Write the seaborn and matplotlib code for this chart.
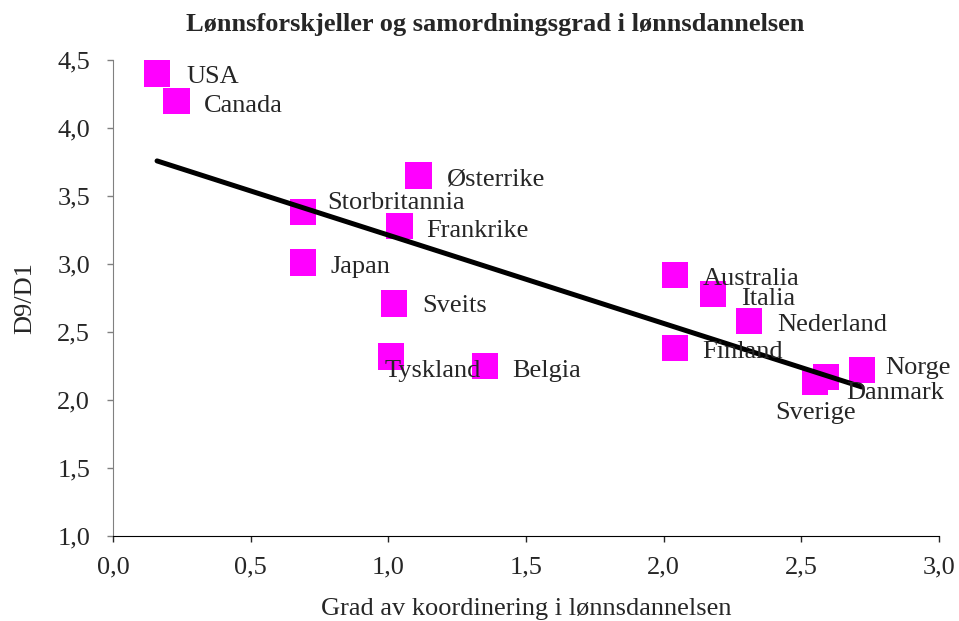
import numpy as np
import pandas as pd
import matplotlib
matplotlib.use('Agg')
import matplotlib.pyplot as plt
import matplotlib.ticker as mticker
import seaborn as sns

# data
land = ['USA', 'Canada', 'Storbritannia', 'Japan', 'Østerrike', 'Frankrike',
        'Sveits', 'Tyskland', 'Belgia', 'Australia', 'Italia', 'Nederland',
        'Finland', 'Norge', 'Danmark', 'Sverige']
koordinering = [0.16, 0.23, 0.69, 0.69, 1.11, 1.04,
                1.02, 1.01, 1.35, 2.04, 2.18, 2.31,
                2.04, 2.72, 2.59, 2.55]
d9_d1 = [4.40, 4.20, 3.38, 3.01, 3.65, 3.28,
         2.71, 2.32, 2.25, 2.92, 2.78, 2.58,
         2.38, 2.22, 2.17, 2.13]

df = pd.DataFrame({'land': land, 'x': koordinering, 'y': d9_d1})

# label offsets in pixels (dx, dy, horizontal alignment)
offsets = {
    'USA': (29, -3, 'left'), 'Canada': (28, -5, 'left'),
    'Storbritannia': (24, 9, 'left'), 'Japan': (28, -4, 'left'),
    'Østerrike': (28, -4, 'left'), 'Frankrike': (27, -5, 'left'),
    'Sveits': (28, -3, 'left'), 'Tyskland': (-7, -15, 'left'),
    'Belgia': (28, -5, 'left'), 'Australia': (28, -4, 'left'),
    'Italia': (28, -5, 'left'), 'Nederland': (28, -4, 'left'),
    'Finland': (28, -4, 'left'), 'Norge': (23, 2, 'left'),
    'Danmark': (20, -16, 'left'), 'Sverige': (0, -31, 'center'),
}

sns.set_style('white')
plt.rcParams['font.family'] = ['Liberation Serif', 'DejaVu Serif']

fig = plt.figure(figsize=(9.59, 6.21), dpi=100)
ax = fig.add_axes([113 / 959, 1 - 536 / 621, 826 / 959, 476 / 621])

sns.scatterplot(data=df, x='x', y='y', marker='s', s=360, color='#FF00FF',
                edgecolor='none', ax=ax, zorder=2)
sns.regplot(data=df, x='x', y='y', scatter=False, ci=None, truncate=True,
            line_kws={'color': 'black', 'lw': 3.6, 'zorder': 3}, ax=ax)

for _, r in df.iterrows():
    dx, dy, ha = offsets[r['land']]
    ax.annotate(r['land'], (r['x'], r['y']), xytext=(dx * 0.72, dy * 0.72),
                textcoords='offset points', ha=ha, va='center', fontsize=19,
                zorder=4)

ax.set_xlim(0, 3)
ax.set_ylim(1, 4.5)
ax.set_xticks(np.arange(0, 3.01, 0.5))
ax.set_yticks(np.arange(1, 4.51, 0.5))
fmt = mticker.FuncFormatter(lambda v, p: f'{v:.1f}'.replace('.', ','))
ax.xaxis.set_major_formatter(fmt)
ax.yaxis.set_major_formatter(fmt)
ax.tick_params(axis='both', labelsize=19, length=4.5, width=1, direction='out',
               bottom=True, left=True)
ax.tick_params(axis='y', color='#808080', pad=12)
ax.tick_params(axis='x', pad=10)

sns.despine(ax=ax)
ax.spines['left'].set_color('#808080')
ax.spines['bottom'].set_color('black')

ax.set_xlabel('Grad av koordinering i lønnsdannelsen', fontsize=19, labelpad=14)
ax.set_ylabel('D9/D1', fontsize=19, labelpad=15)
fig.text(495 / 959, 1 - 24 / 621, 'Lønnsforskjeller og samordningsgrad i lønnsdannelsen',
         ha='center', va='center', fontsize=19, fontweight='bold')

fig.savefig('out.png', dpi=100)
